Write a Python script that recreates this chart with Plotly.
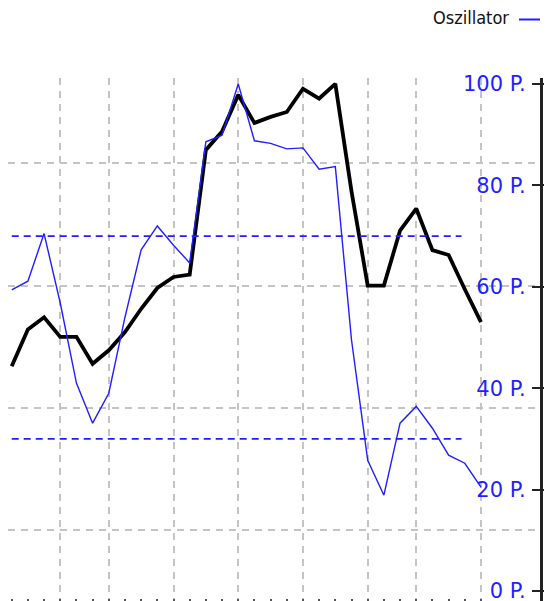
import plotly.graph_objects as go

# ---- data ----
idx = list(range(30))
price = [53.4, 56.4, 57.4, 55.8, 55.8, 53.6, 54.7, 56.2, 58.1, 59.8,
         60.7, 60.9, 71.1, 72.6, 75.6, 73.3, 73.8, 74.2, 76.1, 75.3,
         76.5, 67.7, 60.0, 60.0, 64.5, 66.3, 62.9, 62.5, 59.7, 57.0]
oscillator = [59.4, 61.1, 70.5, 56.8, 41.0, 33.1, 39.0, 54.0, 67.3, 72.0,
              68.2, 64.7, 88.6, 89.9, 100.0, 88.8, 88.3, 87.2, 87.4, 83.2,
              83.7, 49.5, 25.8, 18.9, 33.1, 36.4, 32.1, 26.8, 25.2, 20.5]
grid_idx = [3, 6, 10, 14, 18, 22, 25, 29]
minor_idx = [i for i in idx if i not in grid_idx]
levels = [30, 70]
level_span = [0, 27.8]
osc_ticks = [0, 20, 40, 60, 80, 100]
osc_labels = ["0 P.", "20 P.", "40 P.", "60 P.", "80 P.", "100 P."]
price_grid = [40, 50, 60, 70]

BLUE = "#1f1fff"
GRID = "#c4c4c4"
AX = "#222222"

# page body has an 8px default margin -> figure drawn at (8, 8)
OFF = 8
PW = 541 - OFF          # plot area width in px
PH = 601 - 78           # plot area height in px


def px_x(page_x):
    return (page_x - OFF) / PW


def px_y(page_y):
    return (601 - page_y) / PH


fig = go.Figure()

fig.add_trace(go.Scatter(x=idx, y=price, mode="lines", yaxis="y",
                         line=dict(color="black", width=3.8),
                         showlegend=False, hoverinfo="skip"))

for lv in levels:
    fig.add_trace(go.Scatter(x=level_span, y=[lv, lv], mode="lines", yaxis="y2",
                             line=dict(color=BLUE, width=1.7, dash="7px,5px"),
                             showlegend=False, hoverinfo="skip"))

fig.add_trace(go.Scatter(x=idx, y=oscillator, mode="lines", yaxis="y2",
                         name="Oszillator",
                         line=dict(color=BLUE, width=1.4),
                         showlegend=False))

fig.add_trace(go.Scatter(x=[None], y=[None], yaxis="y3", showlegend=False,
                         hoverinfo="skip"))

fig.update_layout(
    width=552 - OFF, height=601 - OFF,
    margin=dict(l=0, r=11, t=78 - OFF, b=0, autoexpand=False),
    paper_bgcolor="white", plot_bgcolor="white",
    showlegend=False,
    xaxis=dict(range=[-0.229, 32.71], tickvals=grid_idx, showticklabels=False,
               ticks="inside", ticklen=2, tickwidth=2, tickcolor="#555555",
               showgrid=True, gridcolor=GRID, gridwidth=1.5, griddash="7px,6px",
               minor=dict(tickvals=minor_idx, ticks="inside", ticklen=2,
                          tickwidth=2, tickcolor="#555555", showgrid=False),
               zeroline=False, showline=False),
    yaxis=dict(range=[34.19, 76.98], tickvals=price_grid, showticklabels=False,
               ticks="", showgrid=True, gridcolor=GRID, gridwidth=1.5,
               griddash="7px,6px", zeroline=False, showline=False),
    yaxis2=dict(range=[-1.97, 101.18], overlaying="y", side="left",
                anchor="free", position=1.0, automargin=False,
                tickmode="array", tickvals=osc_ticks, ticktext=osc_labels,
                ticklabeloverflow="allow",
                ticks="outside", ticklen=8, tickwidth=2, tickcolor=AX,
                ticklabelstandoff=2,
                tickfont=dict(family="DejaVu Sans", size=21, color=BLUE),
                showline=True, linecolor=AX, linewidth=2,
                showgrid=False, zeroline=False),
    yaxis3=dict(range=[-1.97, 101.18], overlaying="y", side="right", anchor="x",
                automargin=False,
                tickvals=osc_ticks, showticklabels=False,
                ticks="outside", ticklen=9, tickwidth=2, tickcolor=AX,
                showline=True, linecolor=AX, linewidth=2,
                showgrid=False, zeroline=False),
    annotations=[dict(text="Oszillator", xref="paper", yref="paper",
                      x=px_x(511), y=px_y(18), xanchor="right",
                      yanchor="middle", showarrow=False,
                      font=dict(family="DejaVu Sans Condensed, DejaVu Sans",
                                size=18, color="#111111"))],
    shapes=[dict(type="line", xref="paper", yref="paper",
                 x0=px_x(519), x1=px_x(540), y0=px_y(19.5), y1=px_y(19.5),
                 line=dict(color=BLUE, width=2))],
)

fig.write_html("out.html")
